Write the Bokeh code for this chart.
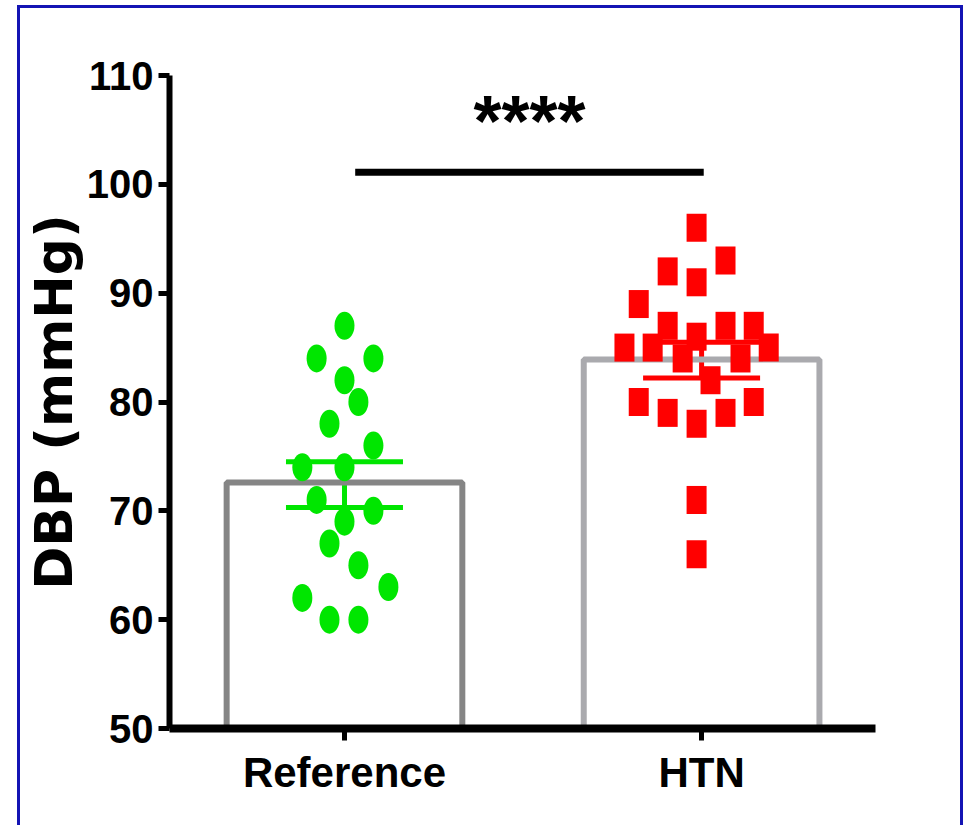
from bokeh.plotting import figure
from bokeh.models import Range1d, FixedTicker, ColumnDataSource, Whisker, TeeHead
from bokeh.core.properties import value
from bokeh.embed import file_html
from bokeh.resources import INLINE

# ---- data ----
categories = ["Reference", "HTN"]
group_pos = [0, 1]
bar_means = [72.6, 83.9]
err_lower = [70.3, 82.2]
err_upper = [74.5, 85.5]

ref_values = [87, 84, 84, 82, 80, 78, 76, 74, 74, 71, 70, 69, 67, 65, 63, 62, 60, 60]
ref_jitter = [0.0, -0.078, 0.081, 0.0, 0.039, -0.042, 0.081, -0.118, 0.0, -0.078,
              0.081, 0.0, -0.042, 0.039, 0.123, -0.118, -0.042, 0.039]

htn_values = [96, 93, 92, 91, 89, 87, 87, 87, 86, 85, 85, 85, 84, 84, 82, 80, 80,
              79, 79, 78, 71, 66]
htn_jitter = [-0.014, 0.067, -0.095, -0.014, -0.176, -0.095, 0.067, 0.146, -0.014,
              -0.216, -0.137, 0.188, -0.053, 0.109, 0.025, -0.176, 0.146, -0.095,
              0.067, -0.014, -0.014, -0.014]

y_ticks = [50, 60, 70, 80, 90, 100, 110]
sig_x = [0.03, 1.006]
sig_y = [101.1, 101.1]
sig_label = "****"
sig_label_y = 105.8
y_label = "DBP (mmHg)"

GREEN = "#00e600"
RED = "#ff0000"
BAR_COLORS = ["#858585", "#aaaaae"]
TICK_FONT = "'Liberation Sans Narrow', 'Liberation Sans', sans-serif"

p = figure(width=946, height=820,
           x_range=Range1d(-0.49, 1.487), y_range=Range1d(50, 110),
           output_backend="svg", toolbar_location=None,
           min_border_left=149, min_border_right=91,
           min_border_top=67, min_border_bottom=100)
p.styles = {"margin-left": "17px", "margin-top": "5px",
            "border": "3px solid #1414b4", "border-bottom": "none"}

p.background_fill_color = "white"
p.border_fill_color = "white"
p.outline_line_color = None
p.grid.visible = False

# bars (outlined only)
bar_src = ColumnDataSource(dict(x=group_pos, top=bar_means, color=BAR_COLORS))
p.vbar(x="x", top="top", bottom=50, width=0.66, source=bar_src,
       fill_color="white", fill_alpha=0.0, line_color="color", line_width=6)

# points
ref_x = [group_pos[0] + j for j in ref_jitter]
htn_x = [group_pos[1] + j for j in htn_jitter]
p.ellipse(x=ref_x, y=ref_values, width=20, height=28,
          width_units="screen", height_units="screen",
          fill_color=GREEN, line_color=None)
p.rect(x=htn_x, y=htn_values, width=20, height=28,
       width_units="screen", height_units="screen",
       fill_color=RED, line_color=None)

# error bars (SEM)
for i, col in enumerate([GREEN, RED]):
    src = ColumnDataSource(dict(base=[group_pos[i]], lower=[err_lower[i]], upper=[err_upper[i]]))
    w = Whisker(source=src, base="base", lower="lower", upper="upper",
                dimension="height", line_color=col, line_width=5,
                upper_head=TeeHead(size=117, line_color=col, line_width=5),
                lower_head=TeeHead(size=117, line_color=col, line_width=5))
    p.add_layout(w)

# significance bar
p.line(x=sig_x, y=sig_y, line_color="black", line_width=7)
p.text(x=[(sig_x[0] + sig_x[1]) / 2], y=[sig_label_y], text=[sig_label],
       text_align="center", text_baseline="alphabetic",
       text_font=value("Liberation Sans"), text_font_style="bold",
       text_font_size="72px", text_color="black")

# axes
p.xaxis.ticker = FixedTicker(ticks=group_pos)
p.xaxis.major_label_overrides = {g: c for g, c in zip(group_pos, categories)}
p.yaxis.ticker = FixedTicker(ticks=y_ticks)
p.yaxis.axis_label = y_label

for ax in (p.xaxis[0], p.yaxis[0]):
    ax.axis_line_color = "black"
    ax.major_tick_line_color = "black"
    ax.major_tick_line_width = 5
    ax.major_tick_in = 0
    ax.minor_tick_line_color = None
    ax.major_label_text_font = TICK_FONT
    ax.major_label_text_font_style = "bold"
    ax.major_label_text_color = "black"

p.xaxis.major_label_text_font_size = "42px"
p.yaxis.major_label_text_font_size = "40px"
p.xaxis.axis_line_width = 8
p.xaxis.major_tick_out = 12
p.xaxis.major_label_standoff = 8
p.yaxis.axis_line_width = 6
p.yaxis.major_tick_out = 11
p.yaxis.major_label_standoff = 5

p.yaxis.axis_label_text_font = "DejaVu Sans"
p.yaxis.axis_label_text_font_style = "bold"
p.yaxis.axis_label_text_font_size = "52px"
p.yaxis.axis_label_text_color = "black"
p.yaxis.axis_label_standoff = 0

open("out.html", "w").write(file_html(p, INLINE))
